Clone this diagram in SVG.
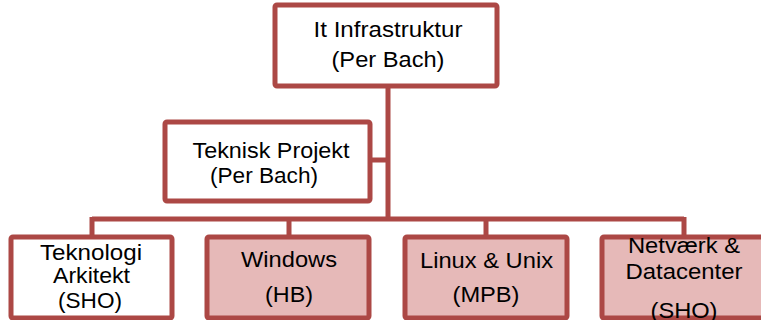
<svg xmlns="http://www.w3.org/2000/svg" width="761" height="320" viewBox="0 0 761 320">
<style>
.box{stroke:#AC4845;stroke-width:5;stroke-linejoin:round}
.w{fill:#FFFFFF}
.p{fill:#E6B9B8}
.c{stroke:#AC4845;stroke-width:5;fill:none;stroke-linecap:butt}
text{font-family:"Liberation Sans",Arial,sans-serif;font-size:22px;fill:#000;text-anchor:middle}
</style>
<rect width="761" height="320" fill="#FFFFFF"/>
<g id="connectors">
<path class="c" d="M388,86 V219 M370,160 H388 M92,219 H684 M92,217 V237 M289,217 V237 M486,217 V237 M684,217 V237"/>
</g>
<g id="it-infrastruktur">
<rect class="box w" x="275" y="5" width="222" height="81" rx="2"/>
<text x="388" y="37" textLength="149" lengthAdjust="spacingAndGlyphs">It Infrastruktur</text>
<text x="388" y="67" textLength="113" lengthAdjust="spacingAndGlyphs">(Per Bach)</text>
</g>
<g id="teknisk-projekt">
<rect class="box w" x="165" y="122" width="205" height="79" rx="2"/>
<text x="271" y="158" textLength="157" lengthAdjust="spacingAndGlyphs">Teknisk Projekt</text>
<text x="264" y="183" textLength="108" lengthAdjust="spacingAndGlyphs">(Per Bach)</text>
</g>
<g id="teknologi-arkitekt">
<rect class="box w" x="11" y="237" width="161" height="81" rx="2"/>
<text x="91" y="260" textLength="102" lengthAdjust="spacingAndGlyphs">Teknologi</text>
<text x="91.5" y="283" textLength="77" lengthAdjust="spacingAndGlyphs">Arkitekt</text>
<text x="90" y="308" textLength="64" lengthAdjust="spacingAndGlyphs">(SHO)</text>
</g>
<g id="windows">
<rect class="box p" x="207" y="237" width="162" height="81" rx="2"/>
<text x="289" y="267" textLength="96" lengthAdjust="spacingAndGlyphs">Windows</text>
<text x="289" y="302" textLength="48" lengthAdjust="spacingAndGlyphs">(HB)</text>
</g>
<g id="linux-unix">
<rect class="box p" x="405" y="237" width="162" height="81" rx="2"/>
<text x="486.5" y="268" textLength="133" lengthAdjust="spacingAndGlyphs">Linux &amp; Unix</text>
<text x="486" y="302" textLength="67" lengthAdjust="spacingAndGlyphs">(MPB)</text>
</g>
<g id="netvaerk-datacenter">
<rect class="box p" x="602" y="237" width="164" height="81" rx="2"/>
<text x="684" y="253" textLength="112" lengthAdjust="spacingAndGlyphs">Netværk &amp;</text>
<text x="684" y="279" textLength="117" lengthAdjust="spacingAndGlyphs">Datacenter</text>
<text x="684" y="318" textLength="67" lengthAdjust="spacingAndGlyphs">(SHO)</text>
</g>
</svg>
